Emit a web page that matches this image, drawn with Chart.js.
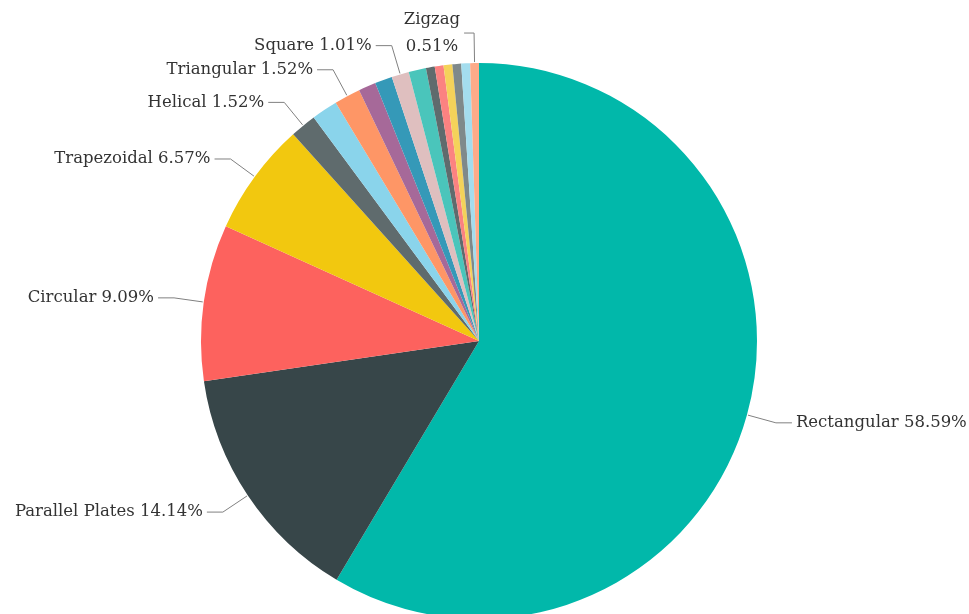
<!DOCTYPE html>
<html>
<head>
<meta charset="utf-8">
<script src="https://cdn.jsdelivr.net/npm/chart.js@4.4.1/dist/chart.umd.min.js"></script>
<style>
  html, body { margin: 0; padding: 0; background: #fff; overflow: hidden; }
  #wrap { width: 969px; height: 630px; position: relative; }
</style>
</head>
<body>
<div id="wrap"><canvas id="pie"></canvas></div>
<script>
// shares in percent, clockwise from 12 o'clock
const categories = ['Rectangular', 'Parallel Plates', 'Circular', 'Trapezoidal', 'Helical',
  'Other 1', 'Triangular', 'Other 2', 'Other 3', 'Square', 'Other 4',
  'Other 5', 'Other 6', 'Other 7', 'Other 8', 'Other 9', 'Zigzag'];
const values = [58.59, 14.14, 9.09, 6.57, 1.52, 1.52, 1.52, 1.01, 1.01, 1.01, 1.01,
  0.51, 0.51, 0.51, 0.51, 0.51, 0.51];
const showLabel = [1, 1, 1, 1, 1, 0, 1, 0, 0, 1, 0, 0, 0, 0, 0, 0, 1];
const wrapLabel = [0, 0, 0, 0, 0, 0, 0, 0, 0, 0, 0, 0, 0, 0, 0, 0, 1];
const colors = ['#01B8AA', '#374649', '#FD625E', '#F2C80F', '#5F6B6D', '#8AD4EB', '#FE9666',
  '#A66999', '#3599B8', '#DFBFBF', '#4AC5BB', '#5F6B6D', '#FB8281', '#F4D25A',
  '#7F898A', '#A4DDEE', '#FDAB89'];

const leaders = {
  id: 'leaders',
  afterDatasetsDraw(chart) {
    const ctx = chart.ctx;
    const meta = chart.getDatasetMeta(0);
    ctx.save();
    ctx.font = '16.5px "DejaVu Serif"';
    ctx.textBaseline = 'middle';
    ctx.lineWidth = 1;
    meta.data.forEach((arc, i) => {
      if (!showLabel[i]) return;
      const mid = (arc.startAngle + arc.endAngle) / 2;
      const r = arc.outerRadius;
      const c = Math.cos(mid), s = Math.sin(mid);
      const x0 = arc.x + c * (r + 1), y0 = arc.y + s * (r + 1);
      const x1 = arc.x + c * (r + 30), y1 = arc.y + s * (r + 30);
      const dir = c >= 0 ? 1 : -1;
      const hl = wrapLabel[i] ? 10 : 16;
      const x2 = x1 + dir * hl;
      ctx.strokeStyle = '#808080';
      ctx.beginPath();
      ctx.moveTo(x0, y0);
      ctx.lineTo(x1, y1);
      ctx.lineTo(x2, y1);
      ctx.stroke();
      ctx.fillStyle = '#333333';
      const pct = values[i].toFixed(2) + '%';
      if (wrapLabel[i]) {
        const lines = [categories[i], pct];
        const w = Math.max(...lines.map(t => ctx.measureText(t).width));
        const cx = x2 + dir * (4 + w / 2);
        ctx.textAlign = 'center';
        ctx.fillText(lines[0], cx, y1 - 13);
        ctx.fillText(lines[1], cx, y1 + 14);
      } else {
        ctx.textAlign = dir > 0 ? 'left' : 'right';
        ctx.fillText(categories[i] + ' ' + pct, x2 + dir * 4, y1);
      }
    });
    ctx.restore();
  }
};

new Chart(document.getElementById('pie'), {
  type: 'pie',
  data: {
    labels: categories,
    datasets: [{
      data: values,
      backgroundColor: colors,
      borderWidth: 0
    }]
  },
  options: {
    responsive: true,
    maintainAspectRatio: false,
    animation: false,
    layout: { padding: { left: 201, right: 212, top: 63, bottom: 11 } },
    plugins: {
      legend: { display: false },
      tooltip: { enabled: false }
    }
  },
  plugins: [leaders]
});
</script>
</body>
</html>
